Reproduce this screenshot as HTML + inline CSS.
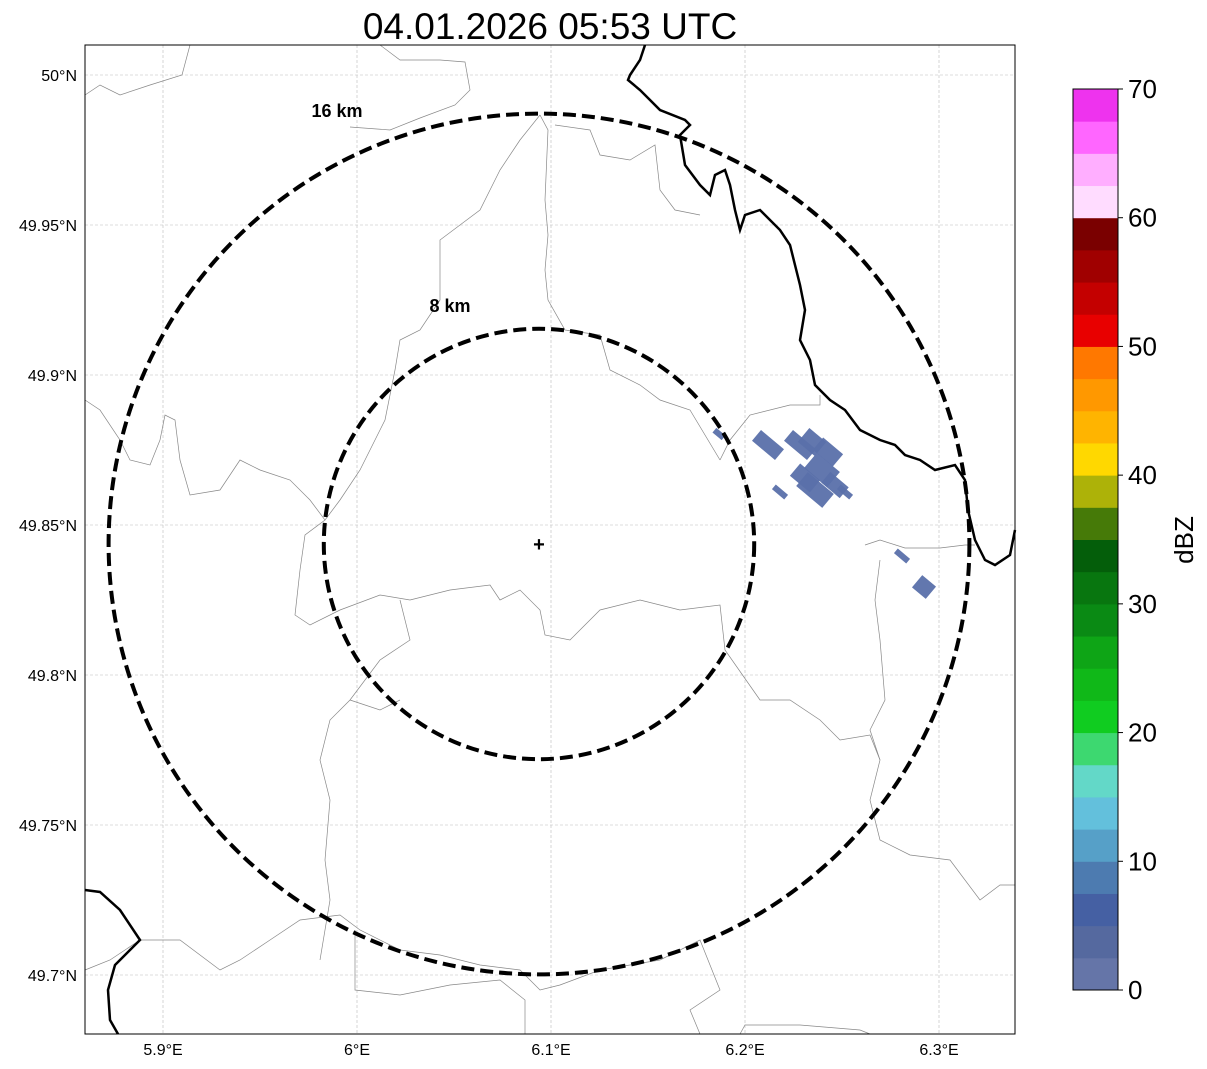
<!DOCTYPE html>
<html><head><meta charset="utf-8"><style>
body{margin:0;background:#fff;font-family:"Liberation Sans",sans-serif}
svg{display:block}
</style></head><body>
<svg width="1207" height="1069">
<text x="550" y="39" font-size="37" text-anchor="middle">04.01.2026 05:53 UTC</text>
<g id="map"></g>
<g id="cbar"></g>
</svg>
<script>
const latTicks=[50,49.95,49.9,49.85,49.8,49.75,49.7];
const latLabels=["50°N","49.95°N","49.9°N","49.85°N","49.8°N","49.75°N","49.7°N"];
const lonTicks=[5.9,6.0,6.1,6.2,6.3];
const lonLabels=["5.9°E","6°E","6.1°E","6.2°E","6.3°E"];
const cbarColors=["#6575a8","#55699f","#4560a3","#4d7bb0","#56a0c8","#63c0dc","#63d8c8","#3dd870","#10cc20","#10b818","#0ea516","#0a8a14","#08760f","#045e0a","#467a08","#adb208","#ffd800","#ffb400","#ff9800","#ff7800","#e80000","#c40000","#a00000","#7a0000","#ffdcff","#ffaeff","#ff66ff","#ee33ee"];
const cbarTicks=[0,10,20,30,40,50,60,70];
const rings=[8,16];
const ns="http://www.w3.org/2000/svg";
const L=85,T=45,R=1015,B=1034;
const X=lon=>163+(lon-5.9)*1940;
const Y=lat=>75+(50-lat)*3000;
function mk(t,a,p){const e=document.createElementNS(ns,t);for(const k in a)e.setAttribute(k,a[k]);p.appendChild(e);return e;}
const map=document.getElementById('map');
lonTicks.forEach((v,i)=>{
 const l=mk('line',{x1:X(v),x2:X(v),y1:T,y2:B,stroke:'#bbb','stroke-width':0.6,'stroke-dasharray':'3,2'},map);
 
 
 const t=mk('text',{x:X(v),y:1055,'font-size':16,'text-anchor':'middle'},map);t.textContent=lonLabels[i];
 
 
});
latTicks.forEach((v,i)=>{
 const l=mk('line',{x1:L,x2:R,y1:Y(v),y2:Y(v),stroke:'#bbb','stroke-width':0.6,'stroke-dasharray':'3,2'},map);
 
 
 const t=mk('text',{x:77,y:Y(v)+6,'font-size':16,'text-anchor':'end'},map);t.textContent=latLabels[i];
 
 
});
const gray=[
"85,95 100,85 120,95 150,85 182,75 190,45",
"380,45 400,60 440,60 465,62 470,90 455,105 420,118 390,130 350,127",
"540,115 548,130 545,200 548,235 545,270 548,300 565,330 600,335 610,370 640,385 660,400 690,410 720,460",
"540,115 520,140 500,170 480,210 460,225 440,240 440,300 420,330 400,340 395,370 385,420 360,470 340,500 325,520",
"555,125 590,130 600,155 630,160 655,145 660,190 675,210 700,215",
"85,400 100,410 120,440 130,460 150,465 160,440 165,415 175,420 180,460 190,495 220,490 240,460 260,470 290,480 310,500 325,520 305,535 300,570 295,615 310,625 340,610 380,595 410,600 450,590 490,585 500,600 520,590 540,610 545,635 570,640 600,610 640,600 680,610 720,605 725,650 760,700 790,700 820,720 840,740 870,735 880,760",
"720,460 730,440 750,415 790,405 820,405 820,395",
"865,545 880,540 905,548 940,548 965,545 975,545",
"880,560 875,600 880,640 885,700 870,730 880,760 870,800 880,840 910,855 950,860 980,900 1000,885 1015,885",
"400,600 410,640 380,660 350,700 330,720 320,760 330,800 325,860 330,900 320,960",
"350,700 380,710 400,700",
"85,970 110,960 140,940 180,940 220,970 240,960 270,940 300,920 340,915 360,930 400,950 440,955 480,965 520,970 540,990 560,985 600,970 660,960 700,940 720,990 690,1010 700,1034",
"355,930 355,990 400,995 450,985 500,980 525,1000 525,1034",
"740,1034 745,1025 800,1025 860,1030 870,1034"
];
gray.forEach(p=>{const e=mk('polyline',{points:p,fill:'none',stroke:'#888','stroke-width':0.7},map);
 
 });
const black=[
"645,45 640,60 630,75 628,80 640,90 650,100 660,110 685,120 690,125 680,135 685,165 700,185 710,195 715,175 725,170 730,185 735,210 740,230 745,215 760,210 780,230 790,245 795,265 800,285 805,310 800,340 810,360 815,385 830,400 845,410 860,430 880,440 895,445 905,455 920,460 935,470 955,465 965,480 968,510 975,540 985,560 995,565 1010,555 1015,530",
"85,890 100,892 120,910 140,940 115,965 108,990 110,1020 118,1034"];
black.forEach(p=>{const e=mk('polyline',{points:p,fill:'none',stroke:'#000','stroke-width':2.5},map);
 
 });
const cells=[[719,434,12,6],[768,445,30,14],[800,445,30,14],[812,442,22,18],[828,452,26,16],[805,478,26,16],[822,470,30,20],[815,490,34,18],[835,485,24,14],[845,492,16,6],[780,492,16,6],[902,556,16,6],[924,587,18,16]];
cells.forEach(c=>{const e=mk('rect',{x:c[0]-c[2]/2,y:c[1]-c[3]/2,width:c[2],height:c[3],fill:'#5a70aa',opacity:0.95,transform:`rotate(40 ${c[0]} ${c[1]})`},map);
 
 });
const cx=539,cy=544,pxPerKm=26.9;
const labelOff={8:[-89,-238],16:[-202,-433]};
rings.forEach(r=>{const e=mk('circle',{cx,cy,r:r*pxPerKm,fill:'none',stroke:'#000','stroke-width':4,'stroke-dasharray':'13,6'},map);
 
 
 const o=labelOff[r]||[-0.44*r*pxPerKm,-r*pxPerKm-10];
 const t=mk('text',{x:cx+o[0],y:cy+o[1]+6,'font-size':18,'font-weight':'bold','text-anchor':'middle'},map);t.textContent=r+' km';
 
 });
const cr=mk('text',{x:cx,y:cy+7,'font-size':20,'font-weight':'bold','text-anchor':'middle'},map);cr.textContent='+';


const fr=mk('rect',{x:L,y:T,width:R-L,height:B-T,fill:'none',stroke:'#000','stroke-width':1},map);


const cb=document.getElementById('cbar');
const cbT=89,cbB=990,cbL=1073,cbW=45;
const V=v=>cbB-(v/70)*(cbB-cbT);
cbarColors.forEach((c,i)=>{const e=mk('rect',{x:cbL,y:V((i+1)*2.5),width:cbW,height:V(i*2.5)-V((i+1)*2.5)+0.5,fill:c},cb);
 
 });
mk('rect',{x:cbL,y:cbT,width:cbW,height:cbB-cbT,fill:'none',stroke:'#000','stroke-width':1},cb);
cbarTicks.forEach(v=>{mk('line',{x1:cbL+cbW,x2:cbL+cbW+5,y1:V(v),y2:V(v),stroke:'#000'},cb);
 const t=mk('text',{x:1128,y:V(v)+9,'font-size':26},cb);t.textContent=v;
 
 });
const u=mk('text',{x:1193,y:540,'font-size':26,'text-anchor':'middle',transform:'rotate(-90 1193 540)'},cb);u.textContent='dBZ';


</script>
</body></html>
